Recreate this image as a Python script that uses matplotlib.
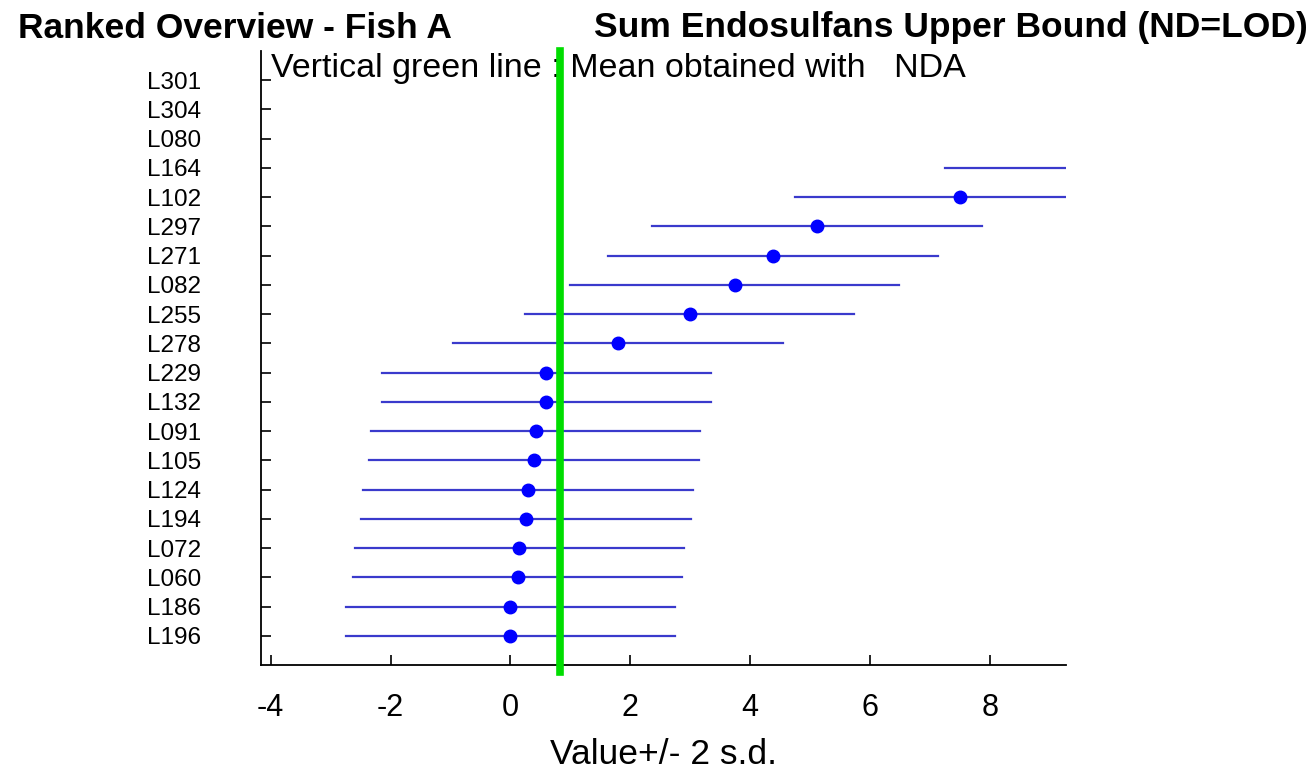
import numpy as np
import matplotlib
matplotlib.use('Agg')
import matplotlib.pyplot as plt

plt.rcParams['font.family'] = ['Liberation Sans', 'DejaVu Sans']

# Labs, top to bottom as in the ranking
labs = ['L301', 'L304', 'L080', 'L164', 'L102', 'L297', 'L271', 'L082', 'L255', 'L278',
        'L229', 'L132', 'L091', 'L105', 'L124', 'L194', 'L072', 'L060', 'L186', 'L196']
# reported values (NaN = off the plotted range / not shown)
values = [np.nan, np.nan, np.nan, 10.0, 7.50, 5.12, 4.38, 3.74, 2.99, 1.80,
          0.60, 0.60, 0.42, 0.39, 0.29, 0.26, 0.15, 0.12, 0.0, 0.0]
two_sd = 2.75
nda_mean = 0.83

title_left = 'Ranked Overview - Fish A'
title_right = 'Sum Endosulfans Upper Bound (ND=LOD)'
note = 'Vertical green line : Mean obtained with   NDA'

fig = plt.figure(figsize=(13.12, 7.71), dpi=100)
ax = fig.add_axes([0.199, 0.1375, 0.6135, 0.7965])

n = len(labs)
ypos = np.arange(n, 0, -1)
vals = np.array(values, dtype=float)

for y, v in zip(ypos, vals):
    if np.isnan(v):
        continue
    ax.plot([v - two_sd, v + two_sd], [y, y], color='#3a3acc', lw=1.6, zorder=2)
ax.plot(vals, ypos, 'o', color='#0000ff', ms=9, zorder=4)

# mean line, drawn over the note text
ax.plot([nda_mean, nda_mean], [-0.25, 21], color='#00dd00', lw=5.5, zorder=5, clip_on=False)

ax.set_xlim(-4.16, 9.27)
ax.set_ylim(0, 21)
ax.set_yticks(ypos)
ax.set_yticklabels(labs, fontsize=17.5)
ax.set_xticks([-4, -2, 0, 2, 4, 6, 8])
ax.set_xticklabels(['-4', '-2', '0', '2', '4', '6', '8'], fontsize=22)
ax.tick_params(axis='y', direction='in', length=7, width=1.2, pad=43)
ax.tick_params(axis='x', direction='in', length=7, width=1.2, pad=20)
for s in ['top', 'right']:
    ax.spines[s].set_visible(False)
for s in ['left', 'bottom']:
    ax.spines[s].set_linewidth(1.3)

ax.set_xlabel('Value+/- 2 s.d.', fontsize=25.5, labelpad=11)
ax.text(0.012, 0.972, note, transform=ax.transAxes, fontsize=24.5, va='center', ha='left', zorder=1)

fig.text(18 / 1312, 1 - 28 / 771, title_left, fontsize=25.5, fontweight='bold', va='center', ha='left')
fig.text(1308 / 1312, 1 - 28 / 771, title_right, fontsize=25.5, fontweight='bold', va='center', ha='right')

plt.savefig('out.png', dpi=100)
